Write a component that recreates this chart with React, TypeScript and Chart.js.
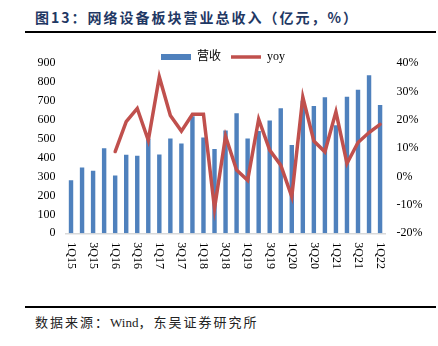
import React, { useEffect, useRef } from 'react';
import { Chart, registerables } from 'chart.js';

Chart.register(...registerables);

const quarters = [
  '1Q15', '2Q15', '3Q15', '4Q15', '1Q16', '2Q16', '3Q16', '4Q16',
  '1Q17', '2Q17', '3Q17', '4Q17', '1Q18', '2Q18', '3Q18', '4Q18',
  '1Q19', '2Q19', '3Q19', '4Q19', '1Q20', '2Q20', '3Q20', '4Q20',
  '1Q21', '2Q21', '3Q21', '4Q21', '1Q22',
];
const revenue = [
  280, 348, 330, 450, 306, 415, 410, 500,
  416, 501, 475, 619, 506, 446, 543, 635,
  501, 540, 596, 661, 466, 700, 673, 719,
  571, 721, 758, 835, 678,
];
const yoy: (number | null)[] = [
  null, null, null, null, 8.8, 19.3, 24, 12.8,
  35.1, 21.5, 16, 21.9, 21.9, -11.2, 14.2, 2.3,
  -1.3, 20.2, 9.3, 4, -7.1, 28, 12.5, 8.7,
  22.8, 4.6, 12, 15.5, 18.4,
];
const leftAxis = { min: 0, max: 900, step: 100 };
const rightAxis = { min: -20, max: 40, step: 10 };

const SERIF = '"Liberation Serif", "Times New Roman", "Noto Sans CJK SC", serif';

export default function App() {
  const ref = useRef<HTMLCanvasElement>(null);

  useEffect(() => {
    if (!ref.current) return;

    const legendFit = {
      id: 'legendFit',
      beforeInit(chart: any) {
        if (!chart.legend) return;
        const orig = chart.legend.fit;
        chart.legend.fit = function () {
          orig.call(this);
          this.height -= 10;
        };
      },
    };

    const xLabels = {
      id: 'xLabels',
      afterDraw(chart: any) {
        const { ctx, chartArea, scales } = chart;
        const xs = scales.x;
        ctx.save();
        ctx.font = `12px ${SERIF}`;
        ctx.fillStyle = '#000';
        ctx.textAlign = 'left';
        ctx.textBaseline = 'middle';
        quarters.forEach((q, i) => {
          if (i % 2 !== 0) return;
          const px = xs.getPixelForValue(i);
          ctx.save();
          ctx.translate(px, chartArea.bottom + 9);
          ctx.rotate(Math.PI / 2);
          ctx.fillText(q, 0, 0);
          ctx.restore();
        });
        ctx.restore();
      },
    };

    const chart = new Chart(ref.current, {
      data: {
        labels: quarters,
        datasets: [
          {
            type: 'bar',
            label: '营收',
            data: revenue,
            backgroundColor: '#4F81BD',
            borderWidth: 0,
            yAxisID: 'y',
            order: 1,
            barPercentage: 0.4,
            categoryPercentage: 1,
            pointStyle: 'rect',
          } as any,
          {
            type: 'line',
            label: 'yoy',
            data: yoy,
            borderColor: '#C0504D',
            backgroundColor: '#C0504D',
            borderWidth: 3.5,
            pointRadius: 0,
            tension: 0,
            yAxisID: 'y1',
            order: 0,
            borderCapStyle: 'round',
            pointStyle: 'line',
          } as any,
        ],
      },
      options: {
        responsive: false,
        maintainAspectRatio: false,
        animation: false,
        layout: { padding: { left: 8, right: 0, top: 5, bottom: 0 } },
        plugins: {
          legend: {
            position: 'top',
            labels: {
              usePointStyle: true,
              pointStyleWidth: 30,
              boxHeight: 6,
              padding: 10,
              color: '#000',
              font: { family: SERIF, size: 12 },
              sort: (a: any, b: any) => a.datasetIndex - b.datasetIndex,
            },
          },
          tooltip: { enabled: false },
        },
        scales: {
          x: {
            grid: { display: false, drawTicks: false },
            border: { display: true, color: '#d9d9d9', width: 1.5 },
            ticks: { display: false },
            afterFit(s: any) { s.height = 52.7; },
          },
          y: {
            position: 'left',
            min: leftAxis.min,
            max: leftAxis.max,
            ticks: { stepSize: leftAxis.step, padding: 10, color: '#000', font: { family: SERIF, size: 12 } },
            grid: { display: false, drawTicks: false },
            border: { display: false },
            afterFit(s: any) { s.width = 57.5; },
          },
          y1: {
            position: 'right',
            min: rightAxis.min,
            max: rightAxis.max,
            ticks: {
              stepSize: rightAxis.step,
              padding: 11,
              color: '#000',
              font: { family: SERIF, size: 12 },
              callback: (v: any) => `${v}%`,
            },
            grid: { display: false, drawTicks: false },
            border: { display: false },
            afterFit(s: any) { s.width = 52.4; },
          },
        },
      } as any,
      plugins: [legendFit, xLabels],
    });
    return () => chart.destroy();
  }, []);

  return (
    <div style={{ position: 'fixed', left: 0, top: 0, width: 438, height: 346, background: '#fff', overflow: 'hidden' }}>
      <div
        style={{
          position: 'absolute', left: 35, top: 9, lineHeight: '16px',
          fontFamily: '"Noto Sans CJK SC", sans-serif', fontWeight: 700, fontSize: 14,
          letterSpacing: 2, color: '#1F3864', whiteSpace: 'nowrap',
        }}
      >
        图13：网络设备板块营业总收入（亿元，%）
      </div>
      <div style={{ position: 'absolute', left: 25, top: 31, width: 411, height: 2, background: '#000' }} />
      <canvas ref={ref} width={438} height={250} style={{ position: 'absolute', left: 0, top: 36, width: 438, height: 250 }} />
      <div style={{ position: 'absolute', left: 25, top: 306, width: 411, height: 1.5, background: '#000' }} />
      <div
        style={{
          position: 'absolute', left: 35, top: 315, lineHeight: '16px',
          fontFamily: SERIF, fontSize: 13, color: '#222', whiteSpace: 'nowrap',
        }}
      >
        <span style={{ letterSpacing: 2 }}>数据来源：</span>
        <span>Wind</span>
        <span style={{ letterSpacing: 2 }}>，东吴证券研究所</span>
      </div>
    </div>
  );
}
